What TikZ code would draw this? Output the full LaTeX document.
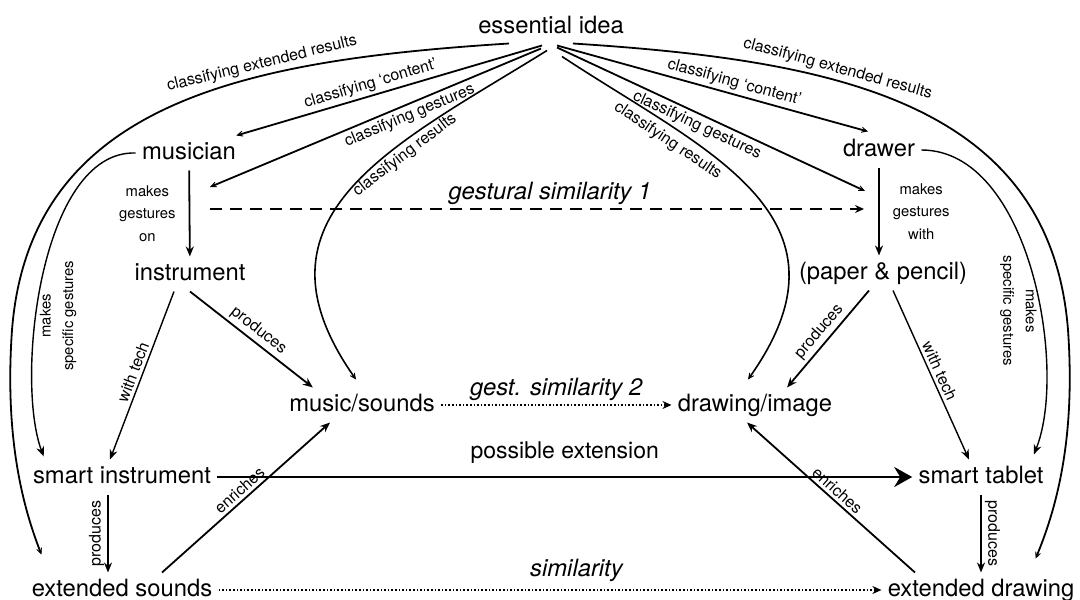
\documentclass[tikz,border=0pt]{standalone}
\usepackage{fontspec}
\setmainfont{TeX Gyre Heros}
\usetikzlibrary{arrows.meta}

\begin{document}
\begin{tikzpicture}[x=0.5pt,y=-0.5pt,
   thing/.style={font=\fontsize{11.9}{14}\selectfont,inner sep=3pt,text height=8.6pt,text depth=2.5pt},
   lbl/.style={font=\fontsize{8}{9.5}\selectfont,inner sep=1.5pt},
   lblsm/.style={font=\fontsize{7.4}{11.2}\selectfont,inner sep=1.5pt,align=center},
   sim/.style={font=\fontsize{11.9}{14}\selectfont\itshape,inner sep=2pt},
   flow/.style={-{Stealth[length=5pt,width=4pt]},line width=0.9pt},
   classify/.style={-{Stealth[length=6pt,width=5.5pt,inset=4.5pt]},line width=0.9pt},
   gestline/.style={-{Stealth[length=4.5pt,width=4pt]},line width=0.8pt,dash pattern=on 6pt off 4pt},
   simline/.style={-{Stealth[length=4.5pt,width=4pt]},line width=0.8pt,densely dotted},
   extline/.style={-{Stealth[length=9pt,width=10pt,inset=3pt]},line width=1.4pt}]

 \useasboundingbox (0,0) rectangle (1080,599);

 \node[thing] (idea) at (551,27) {essential idea};
 \node[thing] (musician) at (189,153) {musician};
 \node[thing] (drawer) at (879,150) {drawer};
 \node[thing] (instrument) at (190,274) {instrument};
 \node[thing] (paper) at (883,273) {(paper \& pencil)};
 \node[thing] (music) at (362,405) {music/sounds};
 \node[thing] (drawing) at (755,405) {drawing/image};
 \node[thing] (sinstr) at (122,477) {smart instrument};
 \node[thing] (stablet) at (981,477) {smart tablet};
 \node[thing] (esounds) at (122,590) {extended sounds};
 \node[thing] (edrawing) at (981,590) {extended drawing};

 \coordinate (playL) at (210,187);
 \coordinate (playR) at (865,191);
 \coordinate (gestL) at (210,209);
 \coordinate (gestR) at (864,209);

 % what the essential idea classifies
 \draw[classify] ([xshift=-4.5pt,yshift=-0.5pt]idea.south) -- node[lbl,pos=0.55,above,sloped]{classifying `content'} ([xshift=-3pt]musician.north east);
 \draw[classify] ([xshift=-5pt,yshift=-2pt]idea.south) -- node[lbl,pos=0.41,below,sloped]{classifying gestures} (playL);
 \draw[classify,line width=0.8pt] ([xshift=-2pt,yshift=-3pt]idea.south) .. controls (395,145) and (240,215) .. node[lbl,pos=0.35,below,sloped]{classifying results} ([xshift=-3pt,yshift=4pt]music.north);
 \draw[classify] ([xshift=-21pt,yshift=0.5pt]idea.south) .. controls (250,60) and (30,100) .. node[lbl,pos=0.34,above,sloped]{classifying extended results} (12,330) .. controls (5,430) and (20,500) .. ([xshift=8pt,yshift=9pt]esounds.north west);

 \draw[classify] ([xshift=3pt,yshift=-0.5pt]idea.south) -- node[lbl,pos=0.56,above,sloped]{classifying `content'} ([xshift=-5.5pt,yshift=0.5pt]drawer.north);
 \draw[classify] ([xshift=3pt,yshift=-1.5pt]idea.south) -- node[lbl,pos=0.47,below,sloped]{classifying gestures} (playR);
 \draw[classify,line width=0.8pt] ([xshift=5.5pt,yshift=-6pt]idea.south) .. controls (705,151) and (865,215) .. node[lbl,pos=0.27,below=1.5pt,sloped]{classifying results} ([xshift=-3.5pt,yshift=4pt]drawing.north);
 \draw[classify] ([xshift=11pt,yshift=0.5pt]idea.south) .. controls (830,60) and (1050,100) .. node[lbl,pos=0.37,above,sloped]{classifying extended results} (1068,330) .. controls (1075,430) and (1060,500) .. ([xshift=-22.5pt,yshift=7pt]edrawing.north east);

 % gestures
 \draw[flow,line width=0.7pt] (musician.west) .. controls (40,150) and (15,380) .. node[lblsm,pos=0.6,anchor=north,rotate=90]{makes\\specific gestures} ([xshift=8.5pt,yshift=1.5pt]sinstr.north west);
 \draw[flow,line width=0.7pt] (drawer.east) .. controls (1030,150) and (1068,370) .. node[lblsm,pos=0.6,anchor=north,rotate=-90]{makes\\specific gestures} ([xshift=-8pt,yshift=2.5pt]stablet.north east);
 \draw[flow] (musician) -- node[lblsm,midway,left=5pt]{makes\\gestures\\on} (instrument);
 \draw[flow] (drawer) -- node[lblsm,midway,right=5pt]{makes\\gestures\\with} (drawer |- paper.north);

 \draw[flow] (instrument.south) -- node[lbl,midway,above,sloped]{produces} ([xshift=15pt]music.north west);
 \draw[flow,line width=0.7pt] ([xshift=-8pt]instrument.south) -- node[lbl,midway,above,sloped]{with tech} ([xshift=-6pt]sinstr.north);
 \draw[flow] ([xshift=-7pt]paper.south) -- node[lbl,midway,above,sloped]{produces} ([xshift=16pt]drawing.north);
 \draw[flow,line width=0.7pt] ([xshift=5pt]paper.south) -- node[lbl,midway,above,sloped]{with tech} ([xshift=-6pt]stablet.north);

 \draw[flow] ([xshift=-7pt]sinstr.south) -- node[lbl,midway,anchor=south,rotate=90]{produces} ([xshift=-7pt]esounds.north);
 \draw[flow] (stablet.south) -- node[lbl,midway,anchor=south,rotate=-90]{produces} (stablet.south |- edrawing.north);
 \draw[flow] ([xshift=20pt]esounds.north) -- node[lbl,midway,above,sloped]{enriches} ([xshift=-16pt]music.south);
 \draw[flow] ([xshift=-33pt]edrawing.north) -- node[lbl,midway,above,sloped]{enriches} ([xshift=-4pt]drawing.south);

 % similarities
 \draw[gestline] (gestL) -- node[sim,pos=0.52,above]{gestural similarity 1} (gestR);
 \draw[simline] (music) -- node[sim,above]{gest. similarity 2} (drawing);
 \draw[extline] (sinstr) -- node[sim,font=\fontsize{11.5}{14}\selectfont,above=4pt]{possible extension} (stablet);
 \draw[simline] (esounds) -- node[sim,pos=0.54,above=2pt]{similarity} (edrawing);

\end{tikzpicture}
\end{document}
